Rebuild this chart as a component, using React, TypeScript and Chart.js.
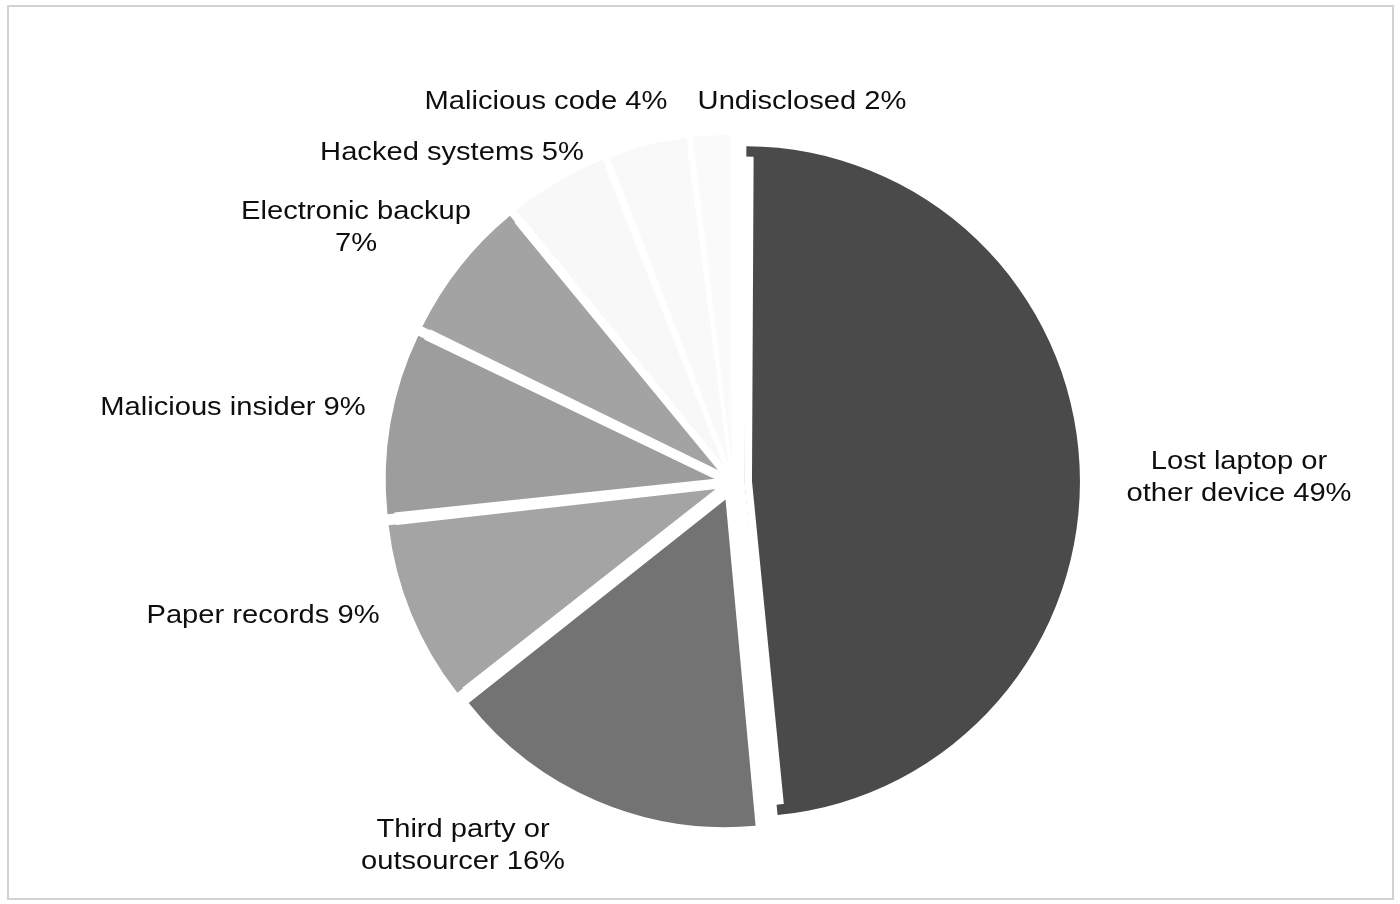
import React, { useEffect, useRef } from "react";
import { Chart, registerables } from "chart.js";

Chart.register(...registerables);

const categories = [
  "Lost laptop or other device",
  "Third party or outsourcer",
  "Paper records",
  "Malicious insider",
  "Electronic backup",
  "Hacked systems",
  "Malicious code",
  "Undisclosed",
];
const shares = [49, 16, 9, 9, 7, 5, 4, 2];
const labelLines = [
  ["Lost laptop or", "other device 49%"],
  ["Third party or", "outsourcer 16%"],
  ["Paper records 9%"],
  ["Malicious insider 9%"],
  ["Electronic backup", "7%"],
  ["Hacked systems 5%"],
  ["Malicious code 4%"],
  ["Undisclosed 2%"],
];
const sliceColors = ["#4a4a4a", "#737373", "#a4a4a4", "#9d9d9d", "#a3a3a3", "#f8f8f8", "#f9f9f9", "#fafafa"];
// label centre positions (layout only)
const labelPos = [
  [1239, 462],
  [463, 830],
  [263, 616],
  [233, 408],
  [356, 212],
  [452, 153],
  [546, 102],
  [802, 102],
];

// explode look: every slice pushed ~19px out along its bisector
const SHIFT = 19;
const BASE_R = 325;
const rimTarget = [340, 347, 347, 347, 347, 347, 347, 347];

function explodeParams(i: number) {
  const total = shares.reduce((a, b) => a + b, 0);
  const theta = (shares[i] / total) * Math.PI * 2;
  const s = Math.sin(theta / 2);
  const f = 1 - Math.sin(Math.min(Math.PI, theta));
  let T = (rimTarget[i] - BASE_R + SHIFT * s) / (1 + f + s);
  T = Math.max(0, Math.min(SHIFT, T));
  const w = Math.max(0, (SHIFT - T) * s);
  return { offset: T * 4, border: w };
}

const labelPlugin = {
  id: "sliceLabels",
  afterDraw(chart: any) {
    const ctx = chart.ctx;
    ctx.save();
    ctx.font = '26px "Liberation Sans", Arial, sans-serif';
    ctx.fillStyle = "#0e0e0e";
    ctx.textAlign = "center";
    ctx.textBaseline = "middle";
    labelLines.forEach((lines, i) => {
      const [x, y] = labelPos[i];
      lines.forEach((ln, k) => {
        ctx.save();
        ctx.translate(x, y + k * 32);
        ctx.scale(1.12, 1);
        ctx.fillText(ln, 0, 0);
        ctx.restore();
      });
    });
    ctx.restore();
  },
};

export default function App() {
  const ref = useRef<HTMLCanvasElement>(null);
  useEffect(() => {
    if (!ref.current) return;
    const chart = new Chart(ref.current, {
      type: "pie",
      data: {
        labels: categories,
        datasets: [
          {
            data: shares,
            backgroundColor: sliceColors,
            borderColor: "#ffffff",
            borderAlign: "inner",
            borderWidth: (c: any) => explodeParams(c.dataIndex).border,
            offset: (c: any) => explodeParams(c.dataIndex).offset,
            hoverOffset: 0,
            radius: BASE_R,
          } as any,
        ],
      },
      options: {
        responsive: false,
        animation: false,
        layout: { padding: { left: 66, top: 60, right: 0, bottom: 0 } },
        plugins: {
          legend: { display: false },
          tooltip: { enabled: false },
        },
        events: [],
      },
      plugins: [labelPlugin],
    });
    return () => chart.destroy();
  }, []);

  return (
    <div style={{ position: "absolute", left: 0, top: 0, width: 1400, height: 904, background: "#fff" }}>
      <div
        style={{
          position: "absolute",
          left: 7,
          top: 5,
          width: 1383,
          height: 891,
          border: "2px solid #d2d2d2",
        }}
      />
      <canvas ref={ref} width={1400} height={904} style={{ position: "absolute", left: 0, top: 0 }} />
    </div>
  );
}
